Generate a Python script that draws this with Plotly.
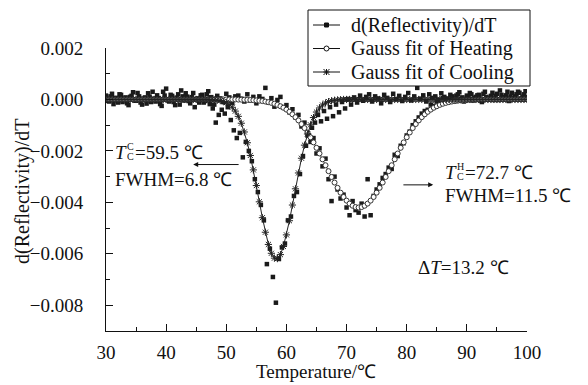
import plotly.graph_objects as go

# ---------------- data ----------------
T_FIT = [30, 30.5, 31, 31.5, 32, 32.5, 33, 33.5, 34, 34.5,
         35, 35.5, 36, 36.5, 37, 37.5, 38, 38.5, 39, 39.5,
         40, 40.5, 41, 41.5, 42, 42.5, 43, 43.5, 44, 44.5,
         45, 45.5, 46, 46.5, 47, 47.5, 48, 48.5, 49, 49.5,
         50, 50.5, 51, 51.5, 52, 52.5, 53, 53.5, 54, 54.5,
         55, 55.5, 56, 56.5, 57, 57.5, 58, 58.5, 59, 59.5,
         60, 60.5, 61, 61.5, 62, 62.5, 63, 63.5, 64, 64.5,
         65, 65.5, 66, 66.5, 67, 67.5, 68, 68.5, 69, 69.5,
         70, 70.5, 71, 71.5, 72, 72.5, 73, 73.5, 74, 74.5,
         75, 75.5, 76, 76.5, 77, 77.5, 78, 78.5, 79, 79.5,
         80, 80.5, 81, 81.5, 82, 82.5, 83, 83.5, 84, 84.5,
         85, 85.5, 86, 86.5, 87, 87.5, 88, 88.5, 89, 89.5,
         90, 90.5, 91, 91.5, 92, 92.5, 93, 93.5, 94, 94.5,
         95, 95.5, 96, 96.5, 97, 97.5, 98, 98.5, 99, 99.5,
         100]

HEAT_FIT = [0, 0, 0, 0, 0, 0, 0, 0, 0, 0,
            0, 0, 0, 0, 0, 0, 0, 0, 0, 0,
            0, 0, 0, 0, 0, 0, 0, 0, 0, 0,
            0, 0, 0, 0, 0, 0, 0, 0, 0, 0,
            0, 0, 0, 0, -0.0000059, -0.0000082, -0.0000113, -0.0000151, -0.0000206, -0.0000277,
            -0.0000365, -0.0000483, -0.000063, -0.0000815, -0.000105, -0.000134, -0.000168, -0.000211, -0.000263, -0.000323,
            -0.000396, -0.00048, -0.000577, -0.000688, -0.000814, -0.000956, -0.001112, -0.001284, -0.00147, -0.001669,
            -0.00188, -0.0021, -0.002327, -0.002557, -0.002787, -0.003013, -0.00323, -0.003435, -0.003623, -0.003791,
            -0.003933, -0.004048, -0.004132, -0.004183, -0.0042, -0.004183, -0.004132, -0.004048, -0.003933, -0.003791,
            -0.003623, -0.003435, -0.00323, -0.003013, -0.002787, -0.002557, -0.002327, -0.0021, -0.00188, -0.001669,
            -0.00147, -0.001284, -0.001112, -0.000956, -0.000814, -0.000688, -0.000577, -0.00048, -0.000396, -0.000323,
            -0.000263, -0.000211, -0.000168, -0.000134, -0.000105, -0.0000815, -0.000063, -0.0000483, -0.0000365, -0.0000277,
            -0.0000206, -0.0000151, -0.0000113, -0.0000082, -0.0000059, 0, 0, 0, 0, 0,
            0, 0, 0, 0, 0, 0, 0, 0, 0, 0,
            0]

COOL_FIT = [0, 0, 0, 0, 0, 0, 0, 0, 0, 0,
            0, 0, 0, 0, 0, 0, 0, 0, 0, 0,
            0, 0, 0, 0, 0, 0, 0, 0, 0, 0,
            0, 0, 0, 0, 0, -0.0000084, -0.0000153, -0.000027, -0.0000464, -0.0000775,
            -0.000126, -0.000198, -0.000304, -0.000453, -0.000656, -0.000924, -0.001264, -0.001683, -0.002177, -0.002738,
            -0.003347, -0.003979, -0.004596, -0.005161, -0.005635, -0.005979, -0.006168, -0.006186, -0.006031, -0.005715,
            -0.005264, -0.004714, -0.004104, -0.003473, -0.002857, -0.002285, -0.001776, -0.001342, -0.000986, -0.000704,
            -0.000489, -0.00033, -0.000216, -0.000138, -0.0000855, -0.0000515, -0.0000302, -0.0000172, -0.0000095, 0,
            0, 0, 0, 0, 0, 0, 0, 0, 0, 0,
            0, 0, 0, 0, 0, 0, 0, 0, 0, 0,
            0, 0, 0, 0, 0, 0, 0, 0, 0, 0,
            0, 0, 0, 0, 0, 0, 0, 0, 0, 0,
            0, 0, 0, 0, 0, 0, 0, 0, 0, 0,
            0, 0, 0, 0, 0, 0, 0, 0, 0, 0,
            0]

# measured d(Reflectivity)/dT, heating run (same temperature grid as the fits)
HEAT_DATA = [0.00015, -0.00008, 0.00022, 0.00005, -0.00012, 0.00018, 0.00002, -0.00015, 0.00010, 0.00028,
             -0.00005, 0.00012, -0.00020, 0.00008, 0.00024, -0.00010, 0.00003, 0.00016, -0.00018, 0.00030,
             0.00042, -0.00008, 0.00014, -0.00022, 0.00020, 0.00035, -0.00004, 0.00011, -0.00015, 0.00025,
             0.00002, -0.00012, 0.00018, -0.00006, 0.00032, 0.00009, -0.00020, 0.00014, 0.00004, -0.00010,
             0.00022, 0.00008, -0.00014, 0.00012, 0.00015, 0.00003, -0.00008, 0.00020, -0.00004, 0.00010,
             -0.00015, 0.00012, 0.00002, 0.00045, -0.00012, 0.00005, -0.00028, -0.00002, 0.00010, -0.00030,
             -0.00022, -0.00050, -0.00038, -0.00070, -0.00060, -0.00105, -0.00090, -0.00140, -0.00165, -0.00150,
             -0.00210, -0.00190, -0.00260, -0.00230, -0.00310, -0.00395, -0.00300, -0.00350, -0.00385, -0.00370,
             -0.00420, -0.00450, -0.00395, -0.00430, -0.00440, -0.00405, -0.00455, -0.00310, -0.00450, -0.00375,
             -0.00350, -0.00330, -0.00305, -0.00290, -0.00265, -0.00270, -0.00215, -0.00220, -0.00180, -0.00170,
             -0.00140, -0.00125, -0.00100, -0.00085, -0.00070, -0.00055, -0.00045, -0.00040, -0.00020, -0.00025,
             -0.00008, -0.00018, 0.00005, -0.00010, -0.00002, 0.00012, -0.00006, 0.00020, 0.00002, -0.00008,
             0.00015, 0.00025, -0.00004, 0.00010, 0.00018, -0.00010, 0.00030, 0.00006, 0.00014, -0.00002,
             0.00022, 0.00035, 0.00008, 0.00016, -0.00006, 0.00026, 0.00012, 0.00030, 0.00004, 0.00020,
             0.00010]

# measured d(Reflectivity)/dT, cooling run
T_COOL = [30.25, 30.75, 31.25, 31.75, 32.25, 32.75, 33.25, 33.75, 34.25, 34.75,
          35.25, 35.75, 36.25, 36.75, 37.25, 37.75, 38.25, 38.75, 39.25, 39.75,
          40.25, 40.75, 41.25, 41.75, 42.25, 42.75, 43.25, 43.75, 44.25, 44.75,
          45.25, 45.75, 46.25, 46.75, 47.25, 47.75, 48.25, 48.75, 49.25, 49.75,
          50.25, 50.75, 51.25, 51.75, 52.25, 52.75, 53.25, 53.75, 54.25, 54.75,
          55.25, 55.75, 56.25, 56.75, 57.25, 57.75, 58.25, 58.75, 59.25, 59.75,
          60.25, 60.75, 61.25, 61.75, 62.25, 62.75, 63.25, 63.75, 64.25, 64.75,
          65.25, 65.75, 66.25, 66.75, 67.25, 67.75, 68.25, 68.75, 69.25, 69.75,
          70.25, 70.75, 71.25, 71.75, 72.25, 72.75, 73.25, 73.75, 74.25, 74.75,
          75.25, 75.75, 76.25, 76.75, 77.25, 77.75, 78.25, 78.75, 79.25, 79.75,
          80.25, 80.75, 81.25, 81.75, 82.25, 82.75, 83.25, 83.75, 84.25, 84.75,
          85.25, 85.75, 86.25, 86.75, 87.25, 87.75, 88.25, 88.75, 89.25, 89.75,
          90.25, 90.75, 91.25, 91.75, 92.25, 92.75, 93.25, 93.75, 94.25, 94.75,
          95.25, 95.75, 96.25, 96.75, 97.25, 97.75, 98.25, 98.75, 99.25, 99.75]

COOL_DATA = [-0.00005, 0.00012, -0.00018, 0.00006, 0.00020, -0.00010, 0.00008, -0.00022, 0.00014, -0.00004,
             0.00025, -0.00012, 0.00002, -0.00016, 0.00011, 0.00030, -0.00008, 0.00005, -0.00025, 0.00015,
             -0.00002, 0.00018, -0.00010, 0.00007, -0.00020, 0.00012, 0.00024, -0.00006, 0.00009, -0.00030,
             0.00004, 0.00016, -0.00012, 0.00020, -0.00018, -0.00035, -0.00090, -0.00060, -0.00040, -0.00055,
             -0.00030, -0.00080, -0.00120, -0.00150, -0.00130, -0.00225, -0.00165, -0.00200, -0.00240, -0.00310,
             -0.00360, -0.00410, -0.00470, -0.00640, -0.00580, -0.00690, -0.00790, -0.00620, -0.00575, -0.00560,
             -0.00470, -0.00455, -0.00375, -0.00360, -0.00290, -0.00220, -0.00180, -0.00140, -0.00110, -0.00090,
             -0.00060, -0.00085, -0.00045, -0.00075, -0.00030, -0.00065, -0.00020, -0.00050, -0.00010, -0.00035,
             0.00002, -0.00020, 0.00008, -0.00012, 0.00015, -0.00005, 0.00010, 0.00020, -0.00008, 0.00012,
             0.00004, -0.00015, 0.00018, 0.00006, -0.00010, 0.00022, 0.00002, 0.00014, -0.00006, 0.00010,
             0.00025, -0.00004, 0.00012, 0.00045, 0.00003, 0.00016, -0.00008, 0.00020, 0.00006, 0.00012,
             -0.00002, 0.00024, 0.00010, 0.00004, 0.00018, -0.00005, 0.00015, 0.00028, 0.00008, -0.00003,
             0.00012, 0.00020, 0.00006, 0.00016, -0.00004, 0.00022, 0.00010, 0.00002, 0.00026, 0.00014,
             -0.00002, 0.00018, 0.00008, 0.00030, 0.00012, 0.00004, 0.00020, 0.00026, 0.00010, 0.00032]

X_TICKS = [30, 40, 50, 60, 70, 80, 90, 100]
Y_TICKS = [-0.008, -0.006, -0.004, -0.002, 0.000, 0.002]
LEGEND_NAMES = ["d(Reflectivity)/dT", "Gauss fit of Heating", "Gauss fit of Cooling"]
X_TITLE = "Temperature/℃"
Y_TITLE = "d(Reflectivity)/dT"

# ---------------- figure ----------------
FONT = "Liberation Serif, Times New Roman, serif"
INK = "#111111"
W, H = 588, 385
ML, MR, MT, MB = 106, 61, 48, 54
PW, PH = W - ML - MR, H - MT - MB


def px(xp):
    return (xp - ML) / PW


def py(yp):
    return (H - MB - yp) / PH


fig = go.Figure()

# measured points
fig.add_trace(go.Scatter(x=T_FIT, y=HEAT_DATA, mode="markers", showlegend=False,
                         marker=dict(symbol="square", size=4.5, color="#1a1a1a")))
fig.add_trace(go.Scatter(x=T_COOL, y=COOL_DATA, mode="markers", showlegend=False,
                         marker=dict(symbol="square", size=4.5, color="#1a1a1a")))
# fits
fig.add_trace(go.Scatter(x=T_FIT, y=HEAT_FIT, mode="lines+markers", showlegend=False,
                         line=dict(color="#444444", width=1),
                         marker=dict(symbol="circle", size=5, color="white",
                                     line=dict(color="#333333", width=1))))
fig.add_trace(go.Scatter(x=T_FIT, y=COOL_FIT, mode="lines+markers", showlegend=False,
                         line=dict(color="#222222", width=1),
                         marker=dict(symbol="asterisk-open", size=6,
                                     line=dict(color="#222222", width=1))))

annotations = []
shapes = []


def txt(x, y, text, size=19, xshift=0, yshift=0):
    annotations.append(dict(x=x, y=y, xref="x", yref="y", text=text, showarrow=False,
                            xanchor="left", yanchor="middle", xshift=xshift, yshift=yshift,
                            font=dict(family=FONT, size=size, color=INK)))


# left block: cooling transition
txt(31.2, -0.00206, "<i>T</i>")
txt(31.2, -0.00206, "C", size=10, xshift=12, yshift=6)
txt(31.2, -0.00206, "C", size=10, xshift=12, yshift=-4)
txt(31.2, -0.00206, "=59.5 ℃", xshift=20)
txt(31.2, -0.00313, "FWHM=6.8 ℃")

# right block: heating transition
txt(86.0, -0.00283, "<i>T</i>")
txt(86.0, -0.00283, "H", size=10, xshift=12, yshift=6)
txt(86.0, -0.00283, "C", size=10, xshift=12, yshift=-4)
txt(86.0, -0.00283, "=72.7 ℃", xshift=20)
txt(86.0, -0.00375, "FWHM=11.5 ℃")

txt(81.6, -0.00655, "Δ<i>T</i>=13.2 ℃")

# arrows
annotations.append(dict(x=44.5, y=-0.00253, ax=52.3, ay=-0.00253, xref="x", yref="y",
                        axref="x", ayref="y", text="", showarrow=True, arrowhead=2,
                        arrowsize=1, arrowwidth=1, arrowcolor=INK))
annotations.append(dict(x=84.4, y=-0.00332, ax=79.2, ay=-0.00332, xref="x", yref="y",
                        axref="x", ayref="y", text="", showarrow=True, arrowhead=2,
                        arrowsize=1, arrowwidth=1, arrowcolor=INK))

# axis titles
annotations.append(dict(x=px(316), y=py(371), xref="paper", yref="paper", text=X_TITLE,
                        showarrow=False, xanchor="center", yanchor="middle",
                        font=dict(family=FONT, size=19, color=INK)))
annotations.append(dict(x=px(22), y=py(191), xref="paper", yref="paper", text=Y_TITLE,
                        showarrow=False, xanchor="center", yanchor="middle", textangle=-90,
                        font=dict(family=FONT, size=20, color=INK)))

# legend (drawn by hand to match the compact row spacing of the original)
LEG_ROWS = [25, 48.5, 72]
shapes.append(dict(type="rect", xref="paper", yref="paper", x0=px(308), x1=px(530),
                   y0=py(86), y1=py(10), line=dict(color=INK, width=1), fillcolor="white",
                   layer="above"))
for i, name in enumerate(LEGEND_NAMES):
    yr = LEG_ROWS[i]
    shapes.append(dict(type="line", xref="paper", yref="paper", x0=px(313), x1=px(340),
                       y0=py(yr), y1=py(yr), line=dict(color=INK, width=1), layer="above"))
    annotations.append(dict(x=px(349), y=py(yr), xref="paper", yref="paper", text=name,
                            showarrow=False, xanchor="left", yanchor="middle",
                            font=dict(family=FONT, size=20, color=INK)))
cx = 326.5
# filled square
shapes.append(dict(type="rect", xref="paper", yref="paper", x0=px(cx - 2), x1=px(cx + 2),
                   y0=py(LEG_ROWS[0] + 2), y1=py(LEG_ROWS[0] - 2),
                   line=dict(color=INK, width=1), fillcolor=INK, layer="above"))
# open circle
shapes.append(dict(type="circle", xref="paper", yref="paper", x0=px(cx - 2.5), x1=px(cx + 2.5),
                   y0=py(LEG_ROWS[1] + 2.5), y1=py(LEG_ROWS[1] - 2.5),
                   line=dict(color=INK, width=1), fillcolor="white", layer="above"))
# asterisk
r = 3
yc = LEG_ROWS[2]
for (dx0, dy0, dx1, dy1) in [(-r, -r, r, r), (-r, r, r, -r), (0, -r, 0, r), (-r, 0, r, 0)]:
    shapes.append(dict(type="line", xref="paper", yref="paper",
                       x0=px(cx + dx0), x1=px(cx + dx1), y0=py(yc + dy0), y1=py(yc + dy1),
                       line=dict(color=INK, width=1), layer="above"))

fig.update_layout(
    width=W, height=H,
    margin=dict(l=ML, r=MR, t=MT, b=MB, autoexpand=False),
    paper_bgcolor="white", plot_bgcolor="white",
    font=dict(family=FONT, size=19, color=INK),
    annotations=annotations, shapes=shapes, showlegend=False,
)

fig.update_xaxes(
    range=[30, 100], tickvals=X_TICKS, ticks="inside", ticklen=7, tickwidth=1,
    tickcolor=INK, showline=True, linecolor=INK, linewidth=1, showgrid=False,
    zeroline=False, ticklabelstandoff=4, automargin=False,
    tickfont=dict(family=FONT, size=19, color=INK),
    minor=dict(dtick=5, tick0=30, ticks="inside", ticklen=4, tickcolor=INK, showgrid=False),
)
fig.update_yaxes(
    range=[-0.009, 0.002], tickvals=Y_TICKS, tickformat=".3f", ticks="inside", ticklen=7,
    tickwidth=1, tickcolor=INK, showline=True, linecolor=INK, linewidth=1, showgrid=False,
    zeroline=False, ticklabelstandoff=18, automargin=False,
    tickfont=dict(family=FONT, size=19, color=INK),
    minor=dict(dtick=0.001, tick0=0, ticks="inside", ticklen=4, tickcolor=INK, showgrid=False),
)

fig.write_html("out.html")
